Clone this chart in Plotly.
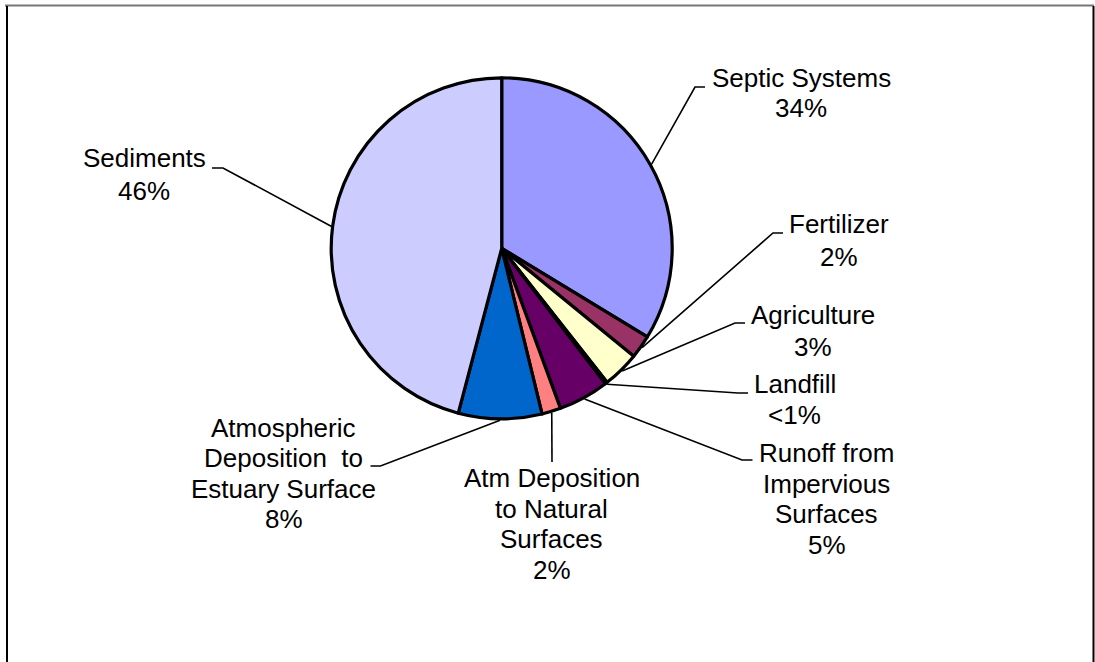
import math
import plotly.graph_objects as go

# ---------------- data ----------------
categories = [
    "Septic Systems",
    "Fertilizer",
    "Agriculture",
    "Landfill",
    "Runoff from Impervious Surfaces",
    "Atm Deposition to Natural Surfaces",
    "Atmospheric Deposition to Estuary Surface",
    "Sediments",
]
values = [33.7, 2.2, 3.5, 0.2, 4.8, 1.8, 7.9, 45.9]
pct_labels = ["34%", "2%", "3%", "<1%", "5%", "2%", "8%", "46%"]
label_lines = [
    ["Septic Systems"],
    ["Fertilizer"],
    ["Agriculture"],
    ["Landfill"],
    ["Runoff from", "Impervious", "Surfaces"],
    ["Atm Deposition", "to Natural", "Surfaces"],
    ["Atmospheric", "Deposition\u00a0 to", "Estuary Surface"],
    ["Sediments"],
]
colors = ["#9999FF", "#993366", "#FFFFCC", "#CCFFFF",
          "#660066", "#FF8080", "#0066CC", "#CCCCFF"]

# ---------------- layout (pixels) ----------------
W, H = 1095, 662
CX, CY = 501.7, 248.3      # pie centre
R_PATH = 170.5             # pie radius (path)
R_OUT = 172.0              # radius where leader lines start

# label text: centre x, y of each text line
label_x = [801, 839, 812.5, 794.5, 826.5, 551.5, 283.5, 144]
label_ys = [
    [78, 108.3],
    [224, 256.7],
    [315, 347],
    [384, 415],
    [453.3, 483.5, 514, 545.3],
    [478.3, 508.8, 539.2, 569.5],
    [428.3, 458, 488.7, 519.2],
    [158.3, 191],
]
# leader line elbow and end points
elbows = [(695, 87), (773, 233), (735, 323), (738, 393),
          (742, 460), (552, 462), (380.5, 466), (223, 168)]
ends = [(705, 87), (783, 233), (745, 323), (748, 393),
        (752.5, 460), (552, 462), (370.5, 466), (212, 168)]

FONT = dict(family="Liberation Sans, Arial, sans-serif", size=26, color="black")


def px(x):
    return x / W


def py(y):
    return 1 - y / H


fig = go.Figure()
fig.add_trace(go.Pie(
    labels=categories,
    values=values,
    sort=False,
    direction="clockwise",
    rotation=0,
    marker=dict(colors=colors, line=dict(color="black", width=3.2)),
    textinfo="none",
    hoverinfo="label+percent",
    showlegend=False,
    domain=dict(x=[px(CX - R_PATH), px(CX + R_PATH)],
                y=[py(CY + R_PATH), py(CY - R_PATH)]),
))

annotations = []
shapes = []
total = sum(values)
cum = 0.0
for i, v in enumerate(values):
    mid = (cum + v / 2) / total * 2 * math.pi
    cum += v
    sx = CX + R_OUT * math.sin(mid)
    sy = CY - R_OUT * math.cos(mid)
    ex, ey = elbows[i]
    fx, fy = ends[i]
    path = (f"M {px(sx)},{py(sy)} L {px(ex)},{py(ey)} L {px(fx)},{py(fy)}")
    shapes.append(dict(type="path", xref="paper", yref="paper", path=path,
                       line=dict(color="black", width=1.6)))
    lines = label_lines[i] + [pct_labels[i]]
    for txt, yy in zip(lines, label_ys[i]):
        annotations.append(dict(
            x=px(label_x[i]), y=py(yy), xref="paper", yref="paper",
            text=txt, showarrow=False, xanchor="center", yanchor="middle",
            font=FONT,
        ))

# chart frame
shapes += [
    dict(type="line", xref="paper", yref="paper",
         x0=px(5), y0=py(5.5), x1=px(1094), y1=py(5.5),
         line=dict(color="#777777", width=2)),
    dict(type="line", xref="paper", yref="paper",
         x0=px(7), y0=py(6), x1=px(7), y1=py(662),
         line=dict(color="black", width=2)),
    dict(type="line", xref="paper", yref="paper",
         x0=px(1093.5), y0=py(6), x1=px(1093.5), y1=py(662),
         line=dict(color="black", width=2)),
]

fig.update_layout(
    width=W, height=H,
    margin=dict(l=0, r=0, t=0, b=0),
    paper_bgcolor="white",
    plot_bgcolor="white",
    showlegend=False,
    annotations=annotations,
    shapes=shapes,
)

fig.write_html(
    "out.html",
    config={"displayModeBar": False},
    post_script="document.body.style.margin='0';"
                "document.body.style.overflow='hidden';",
)
